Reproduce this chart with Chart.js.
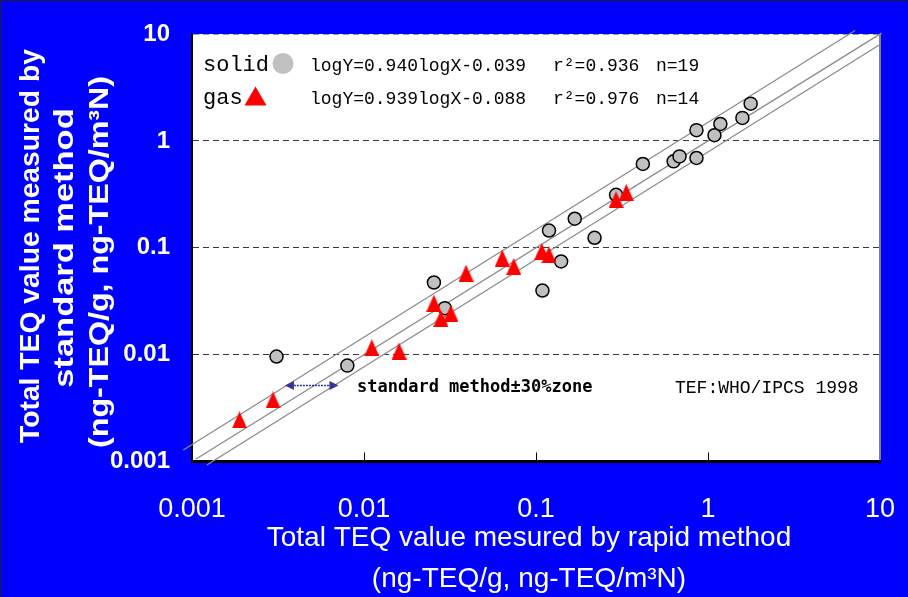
<!DOCTYPE html>
<html lang="en">
<head>
<meta charset="UTF-8">
<title>Total TEQ: rapid method vs standard method</title>
<script src="https://cdn.jsdelivr.net/npm/chart.js"></script>
<style>
  html, body { margin: 0; padding: 0; background: #0000ff; }
  #chart { display: block; }
</style>
</head>
<body>
<canvas id="chart" width="908" height="597"></canvas>
<script>
// solid samples (grey circles): rapid method (x) vs standard method (y)
const solidRapid = [0.0031, 0.0080, 0.0255, 0.0295, 0.109, 0.119, 0.140, 0.168, 0.219, 0.292,
                    0.418, 0.631, 0.683, 0.857, 0.857, 1.09, 1.18, 1.585, 1.77];
const solidStandard = [0.0096, 0.0079, 0.0473, 0.0272, 0.0398, 0.145, 0.0744, 0.187, 0.124, 0.313,
                       0.608, 0.643, 0.716, 0.692, 1.26, 1.13, 1.44, 1.64, 2.23];

// gas samples (red triangles)
const gasRapid = [0.00189, 0.00296, 0.0111, 0.0160, 0.0255, 0.0280, 0.0320, 0.0392, 0.0637, 0.0743,
                  0.108, 0.119, 0.292, 0.335];
const gasStandard = [0.00245, 0.00377, 0.0116, 0.0108, 0.0303, 0.0219, 0.0244, 0.0579, 0.080, 0.0668,
                     0.0923, 0.0859, 0.282, 0.330];

// 1:1 line and the +/-30% zone lines (end points)
const midLineX = [0.00105, 10.2];
const midLineY = [0.00105, 10.2];
const upperLineX = [0.00089, 7.16];
const upperLineY = [0.00128, 10.8];
const lowerLineX = [0.00122, 10.0];
const lowerLineY = [0.000927, 7.97];

// zone arrow (rapid-method range at one standard value)
const arrowX = [0.00347, 0.0071];
const arrowY = 0.00513;

const axisTicks = [0.001, 0.01, 0.1, 1, 10];
const axisTickLabels = ['0.001', '0.01', '0.1', '1', '10'];

const legendRows = [
    { name: 'solid', eq: 'logY=0.940logX-0.039', r2: 'r²=0.936', n: 'n=19' },
    { name: 'gas', eq: 'logY=0.939logX-0.088', r2: 'r²=0.976', n: 'n=14' }
];

const toPoints = (xs, ys) => xs.map((x, i) => ({ x: x, y: ys[i] }));

// red triangle marker (a bit taller than wide, like the original)
function makeTriangle(w, h, color) {
    const c = document.createElement('canvas');
    c.width = w; c.height = h;
    const g = c.getContext('2d');
    g.fillStyle = color;
    g.beginPath();
    g.moveTo(w / 2, 0);
    g.lineTo(w, h);
    g.lineTo(0, h);
    g.closePath();
    g.fill();
    return c;
}
const triangleImg = makeTriangle(15, 17, '#ff0000');

const SANS = '"Liberation Sans", Arial, sans-serif';
const MONO = '"Liberation Mono", "Courier New", monospace';

function txt(ctx, s, x, y, font, color, align, base) {
    ctx.font = font;
    ctx.fillStyle = color;
    ctx.textAlign = align || 'left';
    ctx.textBaseline = base || 'alphabetic';
    ctx.fillText(s, x, y);
}

const backdrop = {
    id: 'backdrop',
    beforeDraw(chart) {
        const ctx = chart.ctx, a = chart.chartArea;
        ctx.save();
        ctx.fillStyle = '#0000ff';
        ctx.fillRect(0, 0, chart.width, chart.height);
        ctx.strokeStyle = '#202020';
        ctx.lineWidth = 1;
        ctx.beginPath();
        ctx.moveTo(0.5, chart.height); ctx.lineTo(0.5, 0.5); ctx.lineTo(chart.width, 0.5);
        ctx.stroke();
        ctx.fillStyle = '#ffffff';
        ctx.fillRect(a.left, a.top, a.right - a.left, a.bottom - a.top);
        ctx.restore();
    }
};

const annotations = {
    id: 'annotations',
    afterDraw(chart) {
        const ctx = chart.ctx, a = chart.chartArea;
        const xs = chart.scales.x, ys = chart.scales.y;
        ctx.save();

        // short inward ticks on the bottom axis
        ctx.strokeStyle = '#000';
        ctx.lineWidth = 1;
        axisTicks.slice(1, -1).forEach(v => {
            const px = Math.round(xs.getPixelForValue(v)) + 0.5;
            ctx.beginPath();
            ctx.moveTo(px, a.bottom);
            ctx.lineTo(px, a.bottom - 9);
            ctx.stroke();
        });

        // legend / regression text
        const rowBase = [70.5, 104];
        legendRows.forEach((r, i) => {
            txt(ctx, r.name, 203, rowBase[i], '22px ' + MONO, '#000');
            txt(ctx, r.eq, 310, rowBase[i], '18px ' + MONO, '#000');
            txt(ctx, r.r2, 553, rowBase[i], '18px ' + MONO, '#000');
            txt(ctx, r.n, 656, rowBase[i], '18px ' + MONO, '#000');
        });
        ctx.fillStyle = '#c0c0c0';
        ctx.beginPath();
        ctx.arc(283, 63.5, 10.5, 0, Math.PI * 2);
        ctx.fill();
        ctx.fillStyle = '#ff0000';
        ctx.beginPath();
        ctx.moveTo(255.5, 86.5);
        ctx.lineTo(266.5, 105.5);
        ctx.lineTo(244.5, 105.5);
        ctx.closePath();
        ctx.fill();

        // zone arrow
        const ax1 = xs.getPixelForValue(arrowX[0]), ax2 = xs.getPixelForValue(arrowX[1]);
        const ay = ys.getPixelForValue(arrowY);
        ctx.strokeStyle = '#33339a';
        ctx.fillStyle = '#33339a';
        ctx.lineWidth = 1.5;
        ctx.setLineDash([2, 1]);
        ctx.beginPath();
        ctx.moveTo(ax1 + 6, ay); ctx.lineTo(ax2 - 6, ay);
        ctx.stroke();
        ctx.setLineDash([]);
        [[ax1, 1], [ax2, -1]].forEach(([px, d]) => {
            ctx.beginPath();
            ctx.moveTo(px, ay);
            ctx.lineTo(px + d * 9, ay - 4.5);
            ctx.lineTo(px + d * 9, ay + 4.5);
            ctx.closePath();
            ctx.fill();
        });
        txt(ctx, 'standard method±30%zone', 357, 392, 'bold 17px "DejaVu Sans Mono", monospace', '#000');
        txt(ctx, 'TEF:WHO/IPCS 1998', 675, 393, '18px ' + MONO, '#000');

        // axis titles
        txt(ctx, 'Total TEQ value mesured by rapid method', 529, 538, '28px ' + SANS, '#fff', 'center', 'middle');
        txt(ctx, '(ng-TEQ/g, ng-TEQ/m³N)', 529, 579, '28px ' + SANS, '#fff', 'center', 'middle');

        // y title: [text, x centre, y centre, stretch along the text]
        const yTitle = [
            ['Total TEQ value measured by', 31, 246, 1.01],
            ['standard method', 65, 248, 1.23],
            ['(ng-TEQ/g, ng-TEQ/m³N)', 100, 262, 1.15]
        ];
        yTitle.forEach(([s, cx, cy, k]) => {
            ctx.save();
            ctx.translate(cx, cy);
            ctx.rotate(-Math.PI / 2);
            ctx.scale(k, 1);
            txt(ctx, s, 0, 0, 'bold 28px ' + SANS, '#fff', 'center', 'middle');
            ctx.restore();
        });
        ctx.restore();
    }
};

const tickLabel = v => {
    const i = axisTicks.indexOf(v);
    return i >= 0 ? axisTickLabels[i] : '';
};

const refLine = (xs, ys) => ({
    data: toPoints(xs, ys),
    showLine: true,
    borderColor: '#8c8c8c',
    borderWidth: 1.3,
    pointRadius: 0,
    clip: false,
    order: 2
});

new Chart(document.getElementById('chart').getContext('2d'), {
    type: 'scatter',
    data: {
        datasets: [
            {
                label: 'gas',
                data: toPoints(gasRapid, gasStandard),
                pointStyle: triangleImg,
                pointRadius: 8,
                order: 0
            },
            {
                label: 'solid',
                data: toPoints(solidRapid, solidStandard),
                pointStyle: 'circle',
                pointRadius: 6.5,
                backgroundColor: '#c0c0c0',
                borderColor: '#000000',
                borderWidth: 1.5,
                order: 1
            },
            refLine(upperLineX, upperLineY),
            refLine(midLineX, midLineY),
            refLine(lowerLineX, lowerLineY)
        ]
    },
    options: {
        responsive: false,
        animation: false,
        devicePixelRatio: 1,
        layout: { padding: { top: 34, right: 28, left: 0, bottom: 0 } },
        plugins: { legend: { display: false }, tooltip: { enabled: false } },
        scales: {
            x: {
                type: 'logarithmic',
                position: 'bottom',
                min: 0.001,
                max: 10,
                afterBuildTicks: s => { s.ticks = axisTicks.map(v => ({ value: v })); },
                afterFit: s => { s.height = 135.5; s.paddingLeft = 0; s.paddingRight = 0; },
                ticks: {
                    color: '#ffffff',
                    font: { family: SANS, size: 27 },
                    padding: 32,
                    maxRotation: 0,
                    autoSkip: false,
                    callback: tickLabel
                },
                grid: {
                    drawTicks: false,
                    lineWidth: 2,
                    color: c => (c.tick && c.tick.value === 10) ? '#808080' : 'rgba(0,0,0,0)'
                },
                border: { color: '#000000', width: 3 }
            },
            y: {
                type: 'logarithmic',
                position: 'left',
                min: 0.001,
                max: 10,
                afterBuildTicks: s => { s.ticks = axisTicks.map(v => ({ value: v })); },
                afterFit: s => { s.width = 192; s.paddingTop = 0; s.paddingBottom = 0; },
                ticks: {
                    color: '#ffffff',
                    font: { family: SANS, size: 24, weight: 'bold' },
                    padding: 22,
                    autoSkip: false,
                    callback: tickLabel
                },
                grid: {
                    drawTicks: false,
                    lineWidth: 1,
                    color: c => {
                        if (!c.tick) return 'rgba(0,0,0,0)';
                        if (c.tick.value === 10) return '#9a9a9a';
                        if (c.tick.value === 0.001) return 'rgba(0,0,0,0)';
                        return '#3a3a3a';
                    }
                },
                border: { color: '#000000', width: 2, dash: [6, 4] }
            }
        }
    },
    plugins: [backdrop, annotations]
});
</script>
</body>
</html>
